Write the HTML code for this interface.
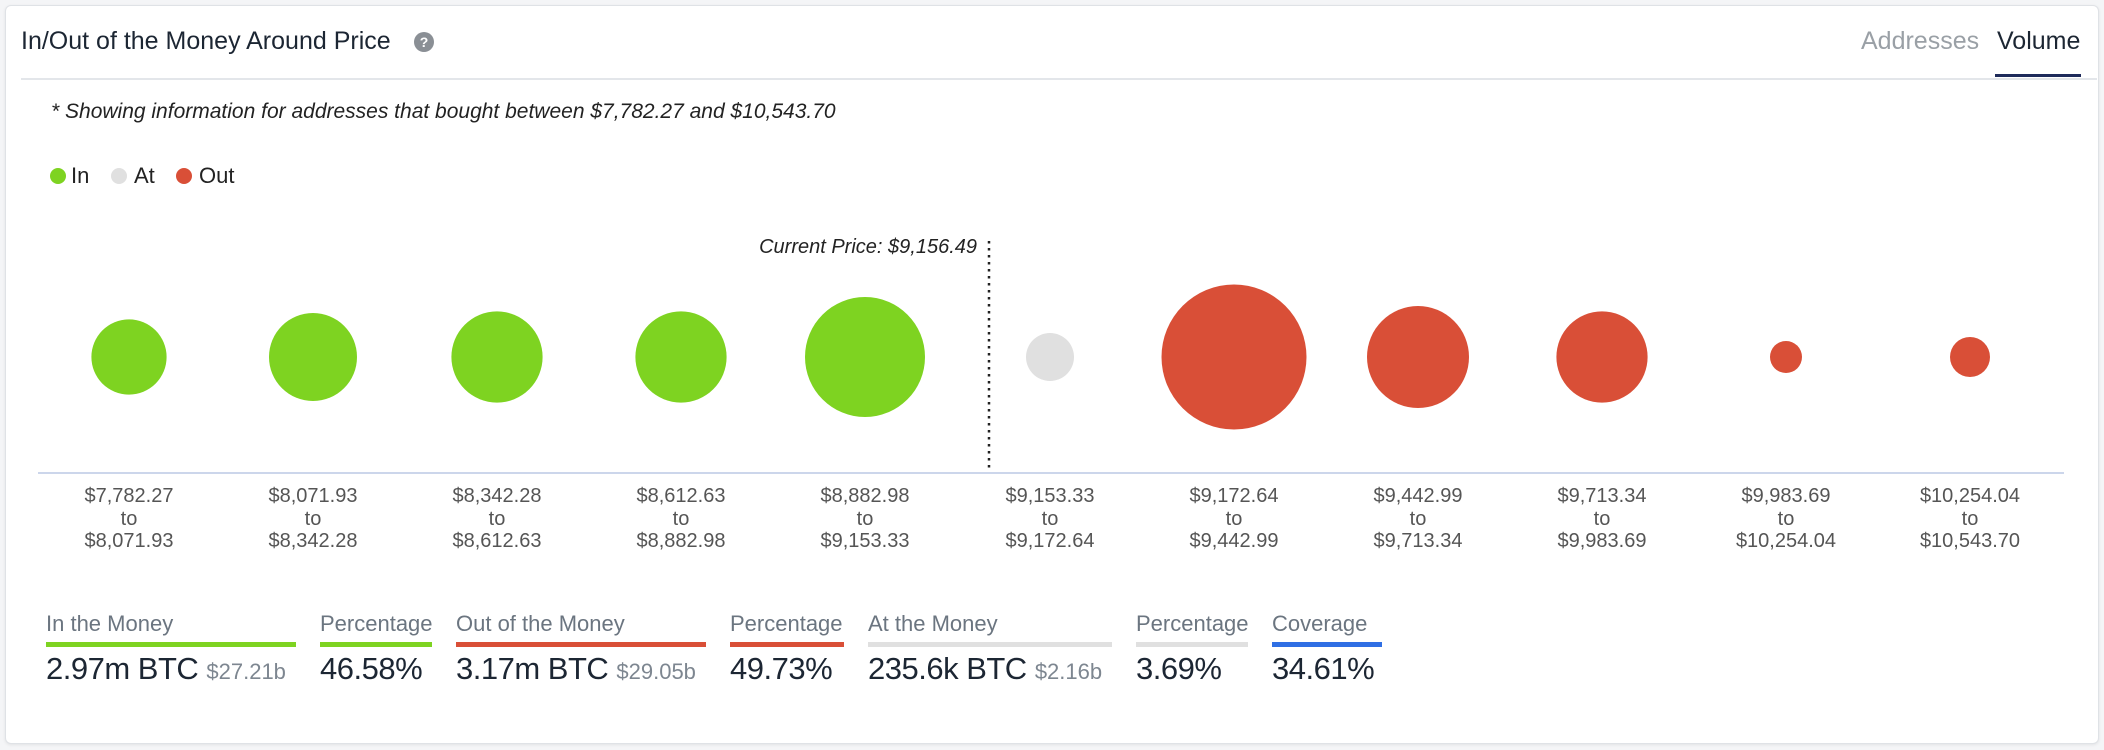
<!DOCTYPE html>
<html><head><meta charset="utf-8"><style>
body{margin:0;width:2104px;height:750px;background:#f4f5f7;font-family:"Liberation Sans",sans-serif;position:relative;overflow:hidden}
.card{position:absolute;left:5px;top:5px;width:2092px;height:737px;background:#fff;border:1px solid #dfe2e6;border-radius:6px;box-shadow:0 1px 3px rgba(0,0,0,.08)}
.a{position:absolute;white-space:nowrap}
.lbl{position:absolute;width:180px;text-align:center;font-size:20px;color:#555;line-height:22.5px}
.sl{position:absolute;top:611px;font-size:22px;color:#6b7580}
.bar{position:absolute;top:642px;height:5px}
.sv{position:absolute;top:651px;font-size:31px;color:#1c2633;letter-spacing:-0.5px}
.sv small{font-size:22px;color:#7d8690;letter-spacing:0}
</style></head><body>
<div class="card"></div>
<div class="a" style="left:21px;top:27px;font-size:25px;color:#1c2633">In/Out of the Money Around Price</div>
<div class="a" style="left:414px;top:32px;width:20px;height:20px;border-radius:50%;background:#8a8f95;color:#fff;font-size:14px;font-weight:bold;text-align:center;line-height:20px">?</div>
<div class="a" style="left:1861px;top:27px;font-size:25px;color:#9aa0a6">Addresses</div>
<div class="a" style="left:1997px;top:27px;font-size:25px;color:#1c2633">Volume</div>
<div class="a" style="left:1995px;top:74px;width:86px;height:3px;background:#1e2a5a"></div>
<div class="a" style="left:21px;top:78px;width:2076px;height:2px;background:#e3e6ea"></div>
<div class="a" style="left:51px;top:100px;font-size:21px;font-style:italic;color:#222">* Showing information for addresses that bought between $7,782.27 and $10,543.70</div>
<div class="a" style="left:50px;top:168px;width:16px;height:16px;border-radius:50%;background:#7ed321"></div>
<div class="a" style="left:71px;top:163px;font-size:22px;color:#222">In</div>
<div class="a" style="left:111px;top:168px;width:16px;height:16px;border-radius:50%;background:#e0e0e0"></div>
<div class="a" style="left:134px;top:163px;font-size:22px;color:#222">At</div>
<div class="a" style="left:176px;top:168px;width:16px;height:16px;border-radius:50%;background:#d94f37"></div>
<div class="a" style="left:199px;top:163px;font-size:22px;color:#222">Out</div>
<div class="a" style="left:677px;top:236px;width:300px;text-align:right;font-size:20px;font-style:italic;color:#222">Current Price: $9,156.49</div>
<svg class="a" style="left:0;top:0" width="2104" height="750">
<line x1="989" y1="241" x2="989" y2="472" stroke="#222" stroke-width="2.5" stroke-dasharray="2.5,4.5"/>
<line x1="38" y1="473" x2="2064" y2="473" stroke="#ccd6eb" stroke-width="2"/>
<g fill="#7ed321">
<circle cx="129" cy="357" r="37.6"/><circle cx="313" cy="357" r="44"/><circle cx="497" cy="357" r="45.6"/><circle cx="681" cy="357" r="45.6"/><circle cx="865" cy="357" r="60"/></g>
<circle cx="1050" cy="357" r="24" fill="#e0e0e0"/>
<g fill="#d94f37"><circle cx="1234" cy="357" r="72.5"/><circle cx="1418" cy="357" r="51"/><circle cx="1602" cy="357" r="45.6"/><circle cx="1786" cy="357" r="16"/><circle cx="1970" cy="357" r="20"/></g>
</svg>
<div class="lbl" style="left:39px;top:485px">$7,782.27<br>to<br>$8,071.93</div>
<div class="lbl" style="left:223px;top:485px">$8,071.93<br>to<br>$8,342.28</div>
<div class="lbl" style="left:407px;top:485px">$8,342.28<br>to<br>$8,612.63</div>
<div class="lbl" style="left:591px;top:485px">$8,612.63<br>to<br>$8,882.98</div>
<div class="lbl" style="left:775px;top:485px">$8,882.98<br>to<br>$9,153.33</div>
<div class="lbl" style="left:960px;top:485px">$9,153.33<br>to<br>$9,172.64</div>
<div class="lbl" style="left:1144px;top:485px">$9,172.64<br>to<br>$9,442.99</div>
<div class="lbl" style="left:1328px;top:485px">$9,442.99<br>to<br>$9,713.34</div>
<div class="lbl" style="left:1512px;top:485px">$9,713.34<br>to<br>$9,983.69</div>
<div class="lbl" style="left:1696px;top:485px">$9,983.69<br>to<br>$10,254.04</div>
<div class="lbl" style="left:1880px;top:485px">$10,254.04<br>to<br>$10,543.70</div>
<div class="sl" style="left:46px">In the Money</div><div class="bar" style="left:46px;width:250px;background:#7ed321"></div><div class="sv" style="left:46px">2.97m BTC <small>$27.21b</small></div>
<div class="sl" style="left:320px">Percentage</div><div class="bar" style="left:320px;width:112px;background:#7ed321"></div><div class="sv" style="left:320px">46.58%</div>
<div class="sl" style="left:456px">Out of the Money</div><div class="bar" style="left:456px;width:250px;background:#d94f37"></div><div class="sv" style="left:456px">3.17m BTC <small>$29.05b</small></div>
<div class="sl" style="left:730px">Percentage</div><div class="bar" style="left:730px;width:114px;background:#d94f37"></div><div class="sv" style="left:730px">49.73%</div>
<div class="sl" style="left:868px">At the Money</div><div class="bar" style="left:868px;width:244px;background:#e0e0e0"></div><div class="sv" style="left:868px">235.6k BTC <small>$2.16b</small></div>
<div class="sl" style="left:1136px">Percentage</div><div class="bar" style="left:1136px;width:112px;background:#e0e0e0"></div><div class="sv" style="left:1136px">3.69%</div>
<div class="sl" style="left:1272px">Coverage</div><div class="bar" style="left:1272px;width:110px;background:#2f6fe4"></div><div class="sv" style="left:1272px">34.61%</div>
</body></html>
